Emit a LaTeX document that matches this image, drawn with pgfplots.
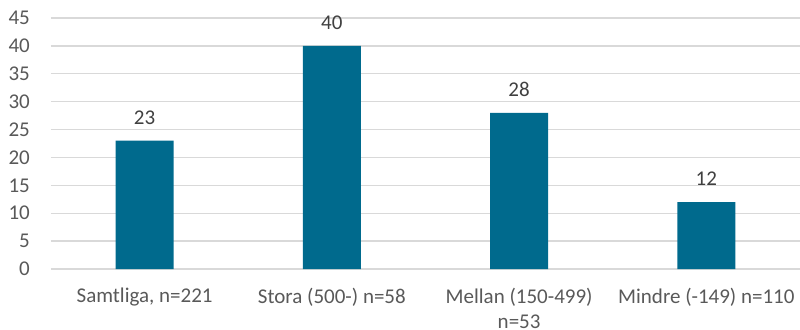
\documentclass[border=0pt]{standalone}
\usepackage{pgfplots}
\pgfplotsset{compat=1.18}
\usepackage{fontspec}
\setmainfont{Carlito}
\definecolor{barc}{RGB}{0,106,141}
\definecolor{txt}{RGB}{89,89,89}
\definecolor{lbl}{RGB}{64,64,64}
\definecolor{grd}{RGB}{217,217,217}
\begin{document}
\begin{tikzpicture}
\useasboundingbox (0,0) rectangle (800bp,330bp);
\begin{axis}[
 at={(51bp,61bp)}, anchor=south west,
 scale only axis, width=749bp, height=251bp,
 xmin=-0.5, xmax=3.5, ymin=0, ymax=45,
 ytick={0,5,...,45},
 xtick={0,1,2,3},
 xticklabels={{Samtliga, n=221},{Stora (500-) n=58},{Mellan (150-499)\\n=53},{Mindre (-149) n=110}},
 axis line style={draw=none},
 major tick length=0pt,
 ymajorgrids, grid style={grd, line width=1.3bp},
 /pgf/number format/assume math mode=true,
 tick label style={font=\fontsize{21bp}{25bp}\selectfont, text=txt},
 yticklabel style={anchor=east, inner sep=0pt, xshift=-21bp},
 xticklabel style={anchor=north, inner sep=0pt, yshift=-19bp, align=center},
 clip=false,
]
\addplot[ybar, bar width=58bp, fill=barc, draw=none,
  nodes near coords,
  every node near coord/.append style={font=\fontsize{21bp}{25bp}\selectfont, text=lbl, anchor=south, inner sep=0pt, yshift=16bp}]
  coordinates {(0,23) (1,40) (2,28) (3,12)};
\end{axis}
\end{tikzpicture}
\end{document}
